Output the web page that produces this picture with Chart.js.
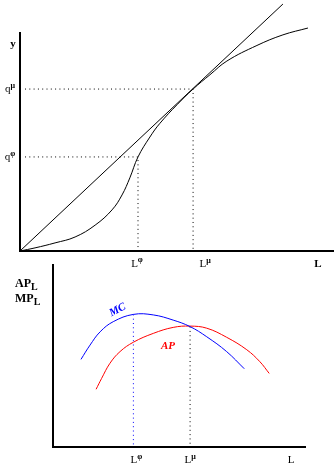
<!DOCTYPE html>
<html>
<head>
<meta charset="utf-8">
<script src="https://cdn.jsdelivr.net/npm/chart.js@4.4.1/dist/chart.umd.min.js"></script>
<style>
  html, body { margin: 0; padding: 0; background: #fff; }
  #wrap { position: relative; width: 336px; height: 471px; }
  canvas { position: absolute; left: 0; top: 0; }
</style>
</head>
<body>
<div id="wrap">
  <canvas id="tp" width="336" height="471"></canvas>
  <canvas id="mp" width="336" height="471"></canvas>
</div>
<script>
// top panel: total product curve y(L) and the ray from the origin
var tpL = [0, 0.48, 1.12, 1.76, 2.40, 2.94, 3.26, 3.51, 3.77, 4.15, 4.47, 5.02, 5.53, 6.07, 6.61, 7.57, 8.40, 9.20];
var tpY = [0, 0.10, 0.26, 0.45, 0.83, 1.32, 1.80, 2.35, 3.02, 3.66, 4.10, 4.70, 5.20, 5.66, 6.10, 6.60, 6.94, 7.16];
var rayL = [0, 8.40];
var rayY = [0, 7.93];
var Lphi = 3.77, qphi = 3.02;
var Lmu = 5.53, qmu = 5.20;

// bottom panel: marginal and average product
var mcL = [1.11, 1.47, 1.87, 2.39, 3.19, 3.98, 4.77, 5.44, 6.10, 6.89, 7.59];
var mcY = [3.37, 3.92, 4.43, 4.82, 5.10, 5.08, 4.88, 4.63, 4.24, 3.67, 3.01];
var apL = [1.71, 1.93, 2.26, 2.66, 3.19, 3.98, 4.77, 5.44, 6.10, 6.89, 7.69, 8.21, 8.58];
var apY = [2.22, 2.64, 3.22, 3.67, 4.03, 4.37, 4.60, 4.65, 4.57, 4.22, 3.74, 3.28, 2.83];
var LphiB = 3.19, mcMax = 5.10;
var LmuB = 5.44, apMax = 4.63;

// label text
var tY = 'y', tQ = 'q', tL = 'L', tMu = 'μ', tPhi = 'φ';
var tAP = 'AP', tMP = 'MP', tMC = 'MC';

function pts(xs, ys) {
  return xs.map(function (x, i) { return { x: x, y: ys[i] }; });
}

function txt(ctx, parts, cx, cy, color, align) {
  var w = 0;
  parts.forEach(function (p) { ctx.font = p.font; p.w = ctx.measureText(p.t).width; w += p.w; });
  var x = align === 'left' ? cx : cx - w / 2;
  ctx.fillStyle = color || '#000';
  ctx.textAlign = 'left';
  ctx.textBaseline = 'alphabetic';
  parts.forEach(function (p) { ctx.font = p.font; ctx.fillText(p.t, x, cy + (p.dy || 0)); x += p.w; });
}

var serif = '"Liberation Serif", "DejaVu Serif", serif';
var fB = 'bold 11px ' + serif;
var fN = '11px ' + serif;
var fS = 'bold 8px ' + serif;

function axisScale(min, max, isX) {
  return {
    type: 'linear', min: min, max: max,
    grid: { display: false, drawTicks: false },
    ticks: { display: false },
    border: { display: true, color: '#000', width: 2 },
    afterFit: function (s) { if (isX) s.height = 0; else s.width = 0; }
  };
}

function lineDs(data, color, dash, tension) {
  return {
    data: data, borderColor: color, borderWidth: 1, pointRadius: 0,
    borderDash: dash || [], tension: tension || 0, clip: false, fill: false
  };
}

var dots = [1, 3.3];

new Chart(document.getElementById('tp'), {
  type: 'line',
  data: {
    datasets: [
      lineDs(pts(tpL, tpY), '#000', null, 0.4),
      lineDs(pts(rayL, rayY), '#000'),
      lineDs([{ x: 0.16, y: qmu }, { x: Lmu, y: qmu }, { x: Lmu, y: 0 }], '#000', dots),
      lineDs([{ x: 0.16, y: qphi }, { x: Lphi, y: qphi }, { x: Lphi, y: 0 }], '#000', dots)
    ]
  },
  options: {
    responsive: false, animation: false,
    layout: { padding: { top: 33, bottom: 220, left: 20, right: 3 } },
    scales: { x: axisScale(0, 10, true), y: axisScale(0, 7, false) },
    plugins: { legend: { display: false }, tooltip: { enabled: false } }
  },
  plugins: [{
    id: 'tpLabels',
    afterDraw: function (c) {
      var ctx = c.ctx, x = c.scales.x, y = c.scales.y;
      ctx.save();
      txt(ctx, [{ t: tY, font: fB }], 13, 47);
      txt(ctx, [{ t: tQ, font: fN }, { t: tMu, font: fS, dy: -4 }], 10, y.getPixelForValue(qmu) + 3);
      txt(ctx, [{ t: tQ, font: fN }, { t: tPhi, font: fS, dy: -4 }], 10, y.getPixelForValue(qphi) + 3);
      var base = c.chartArea.bottom + 16;
      txt(ctx, [{ t: tL, font: fN }, { t: tPhi, font: fS, dy: -5 }], x.getPixelForValue(Lphi) - 1, base);
      txt(ctx, [{ t: tL, font: fN }, { t: tMu, font: fS, dy: -4 }], x.getPixelForValue(Lmu) + 12, base);
      txt(ctx, [{ t: tL, font: fB }], 318, base);
      ctx.restore();
    }
  }]
});

new Chart(document.getElementById('mp'), {
  type: 'line',
  data: {
    datasets: [
      lineDs(pts(mcL, mcY), '#0000ff', null, 0.4),
      lineDs(pts(apL, apY), '#ff0000', null, 0.4),
      lineDs([{ x: LphiB, y: mcMax }, { x: LphiB, y: 0 }], '#0000ff', dots),
      lineDs([{ x: LmuB, y: apMax }, { x: LmuB, y: 0 }], '#000', dots)
    ]
  },
  options: {
    responsive: false, animation: false,
    layout: { padding: { top: 265, bottom: 24, left: 53, right: 31 } },
    scales: { x: axisScale(0, 10, true), y: axisScale(0, 7, false) },
    plugins: { legend: { display: false }, tooltip: { enabled: false } }
  },
  plugins: [{
    id: 'mpLabels',
    afterDraw: function (c) {
      var ctx = c.ctx, x = c.scales.x;
      ctx.save();
      txt(ctx, [{ t: tAP, font: 'bold 12px ' + serif }, { t: tL, font: 'bold 10px ' + serif, dy: 3 }], 15, 287, '#000', 'left');
      txt(ctx, [{ t: tMP, font: 'bold 12px ' + serif }, { t: tL, font: 'bold 10px ' + serif, dy: 3 }], 15, 302, '#000', 'left');
      var base = c.chartArea.bottom + 16;
      txt(ctx, [{ t: tL, font: fN }, { t: tPhi, font: fS, dy: -4 }], x.getPixelForValue(LphiB) + 3, base);
      txt(ctx, [{ t: tL, font: fN }, { t: tMu, font: fS, dy: -4 }], x.getPixelForValue(LmuB), base);
      txt(ctx, [{ t: tL, font: fN }], 291, base);
      ctx.save();
      ctx.translate(117, 309);
      ctx.rotate(-0.5);
      txt(ctx, [{ t: tMC, font: 'italic bold 11px ' + serif }], 0, 4, '#0000ff');
      ctx.restore();
      txt(ctx, [{ t: tAP, font: 'italic bold 11px ' + serif }], 168, 349, '#ff0000');
      ctx.restore();
    }
  }]
});
</script>
</body>
</html>
